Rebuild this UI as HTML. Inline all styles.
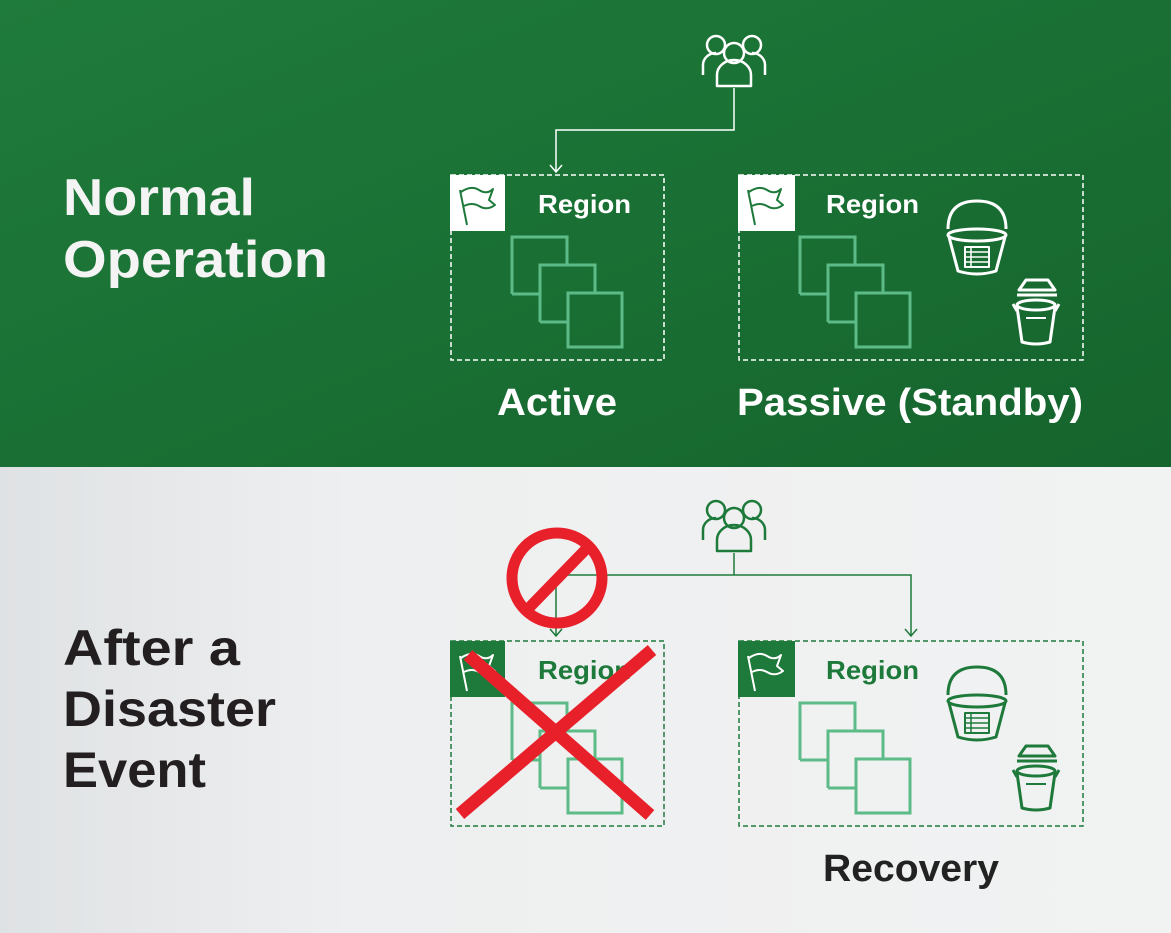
<!DOCTYPE html>
<html><head><meta charset="utf-8"><style>
html,body{margin:0;padding:0;width:1171px;height:933px;overflow:hidden}
svg{display:block}
text{font-family:"Liberation Sans",sans-serif;font-weight:bold}
</style></head><body>
<svg width="1171" height="933" viewBox="0 0 1171 933" xmlns="http://www.w3.org/2000/svg">
<defs>
<linearGradient id="g" x1="0" y1="0" x2="1" y2="1">
<stop offset="0" stop-color="#1f7b3b"/><stop offset="0.5" stop-color="#1a7034"/><stop offset="1" stop-color="#15642d"/>
</linearGradient>
<linearGradient id="w" x1="0" y1="0" x2="1" y2="0">
<stop offset="0" stop-color="#dfe2e4"/><stop offset="0.3" stop-color="#eeeff0"/><stop offset="1" stop-color="#f1f2f2"/>
</linearGradient>
<g id="users" fill="none" stroke-width="2.5" stroke-linejoin="round">
<circle cx="-18" cy="-16" r="9"/><circle cx="18" cy="-16" r="9"/>
<path d="M-31 14 V4 a13 12 0 0 1 13 -12"/><path d="M31 14 V4 a13 12 0 0 0 -13 -12"/>
<circle cx="0" cy="-8" r="10"/>
<path d="M-17 25 V14 a17 15 0 0 1 34 0 V25 Z"/>
</g>
<g id="squares" fill="none" stroke="#5dbb88" stroke-width="3">
<path d="M0 57 V0 H55 V28 M0 57 H28"/>
<path d="M28 85 V28 H83 V56 M28 85 H56"/>
<rect x="56" y="56" width="54" height="54"/>
</g>
<g id="b1" fill="none" stroke-width="3" stroke-linejoin="round">
<path d="M2 28 Q2 0 31 0 Q60 0 60 28"/>
<ellipse cx="31" cy="34" rx="29" ry="6"/>
<path d="M3 36 L12 70 Q31 76 50 70 L59 36"/>
<rect x="19" y="46" width="24" height="20" stroke-width="2"/>
<path d="M19 51 H43 M19 56 H43 M19 61 H43 M25 46 V66" stroke-width="1.5"/>
</g>
<g id="b2" fill="none" stroke-width="3" stroke-linejoin="round">
<path d="M8 12 L15 2 H37 L44 12 Z"/>
<path d="M6 17 H46"/>
<ellipse cx="25" cy="27" rx="19" ry="5"/>
<path d="M6 29 L11 64 Q25 68 39 64 L44 29"/>
<path d="M2 26 L6 33 M48 26 L44 33"/>
<path d="M15 40 H35" stroke-width="2"/>
</g>
<g id="flag" fill="none" stroke-width="2" stroke-linejoin="round">
<path d="M10 46 L3 11"/><path d="M4 13 Q14 6 22 11 Q30 16 36 10 L32 21 L38 26 Q30 32 22 27 Q15 23 7 27"/>
</g>
</defs>
<rect width="1171" height="467" fill="url(#g)"/>
<rect y="467" width="1171" height="466" fill="url(#w)"/>

<!-- TOP -->
<text x="63" y="215" font-size="52" fill="#f4f4f4" textLength="192" lengthAdjust="spacingAndGlyphs">Normal</text>
<text x="63" y="277" font-size="52" fill="#f4f4f4" textLength="265" lengthAdjust="spacingAndGlyphs">Operation</text>
<use href="#users" x="734" y="61" stroke="#fff"/>
<path d="M734 88 V130 H556 V172" fill="none" stroke="#fff" stroke-width="1.5"/>
<path d="M550 165 L556 172 L562 165" fill="none" stroke="#fff" stroke-width="1.5"/>
<rect x="451" y="175" width="213" height="185" fill="none" stroke="#fff" stroke-width="1.5" stroke-dasharray="5 3"/>
<rect x="739" y="175" width="344" height="185" fill="none" stroke="#fff" stroke-width="1.5" stroke-dasharray="5 3"/>
<rect x="450" y="175" width="55" height="56" fill="#fff"/>
<rect x="738" y="175" width="57" height="56" fill="#fff"/>
<use href="#flag" x="457" y="179" stroke="#1e7a3a"/>
<use href="#flag" x="745" y="179" stroke="#1e7a3a"/>
<text x="538" y="213" font-size="26" fill="#fff" textLength="93" lengthAdjust="spacingAndGlyphs">Region</text>
<text x="826" y="213" font-size="26" fill="#fff" textLength="93" lengthAdjust="spacingAndGlyphs">Region</text>
<use href="#squares" x="512" y="237"/>
<use href="#squares" x="800" y="237"/>
<use href="#b1" x="946" y="201" stroke="#fff"/>
<use href="#b2" x="1011" y="278" stroke="#fff"/>
<text x="497" y="415" font-size="38" fill="#fff" textLength="120" lengthAdjust="spacingAndGlyphs">Active</text>
<text x="737" y="415" font-size="38" fill="#fff" textLength="346" lengthAdjust="spacingAndGlyphs">Passive (Standby)</text>

<!-- BOTTOM -->
<text x="63" y="665" font-size="50" fill="#231f20" textLength="177" lengthAdjust="spacingAndGlyphs">After a</text>
<text x="63" y="726" font-size="50" fill="#231f20" textLength="213" lengthAdjust="spacingAndGlyphs">Disaster</text>
<text x="63" y="787" font-size="50" fill="#231f20" textLength="143" lengthAdjust="spacingAndGlyphs">Event</text>
<use href="#users" x="734" y="526" stroke="#1e7a3a"/>
<path d="M734 553 V575 M556 575 H911 V636 M556 575 V636" fill="none" stroke="#1e7a3a" stroke-width="1.5"/>
<path d="M905 629 L911 636 L917 629 M550 629 L556 636 L562 629" fill="none" stroke="#1e7a3a" stroke-width="1.5"/>
<rect x="451" y="641" width="213" height="185" fill="none" stroke="#1e7a3a" stroke-width="1.5" stroke-dasharray="5 3"/>
<rect x="739" y="641" width="344" height="185" fill="none" stroke="#1e7a3a" stroke-width="1.5" stroke-dasharray="5 3"/>
<rect x="450" y="641" width="55" height="56" fill="#1e7a3a"/>
<rect x="738" y="641" width="57" height="56" fill="#1e7a3a"/>
<use href="#flag" x="457" y="645" stroke="#fff"/>
<use href="#flag" x="745" y="645" stroke="#fff"/>
<text x="538" y="679" font-size="26" fill="#1e7a3a" textLength="93" lengthAdjust="spacingAndGlyphs">Region</text>
<text x="826" y="679" font-size="26" fill="#1e7a3a" textLength="93" lengthAdjust="spacingAndGlyphs">Region</text>
<use href="#squares" x="512" y="703"/>
<use href="#squares" x="800" y="703"/>
<use href="#b1" x="946" y="667" stroke="#1e7a3a"/>
<use href="#b2" x="1011" y="744" stroke="#1e7a3a"/>
<text x="823" y="881" font-size="38" fill="#222" textLength="176" lengthAdjust="spacingAndGlyphs">Recovery</text>
<!-- red -->
<circle cx="557" cy="578" r="45" fill="none" stroke="#e8202a" stroke-width="11"/>
<path d="M525 612 L590 545" stroke="#e8202a" stroke-width="11"/>
<path d="M460 814 L652 650 M468 655 L650 815" stroke="#e8202a" stroke-width="13"/>
</svg>
</body></html>
